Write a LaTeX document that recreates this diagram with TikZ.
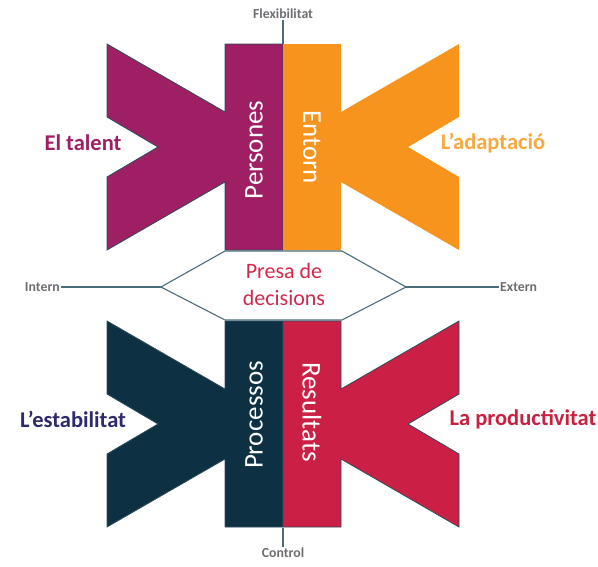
\documentclass[tikz,border=0pt]{standalone}
\usepackage{fontspec}
\setmainfont{Carlito}
\usetikzlibrary{positioning}
\definecolor{talent}{HTML}{9E1F63}
\definecolor{adapt}{HTML}{F7941D}
\definecolor{adapttext}{HTML}{F7A83E}
\definecolor{navy}{HTML}{0D3142}
\definecolor{estab}{HTML}{2E2A6E}
\definecolor{prod}{HTML}{CC1F45}
\definecolor{prodtext}{HTML}{C8203E}
\definecolor{edge}{HTML}{2F4C5C}
\definecolor{axisline}{HTML}{4B6C7A}
\definecolor{axisgray}{HTML}{6D6E71}
\definecolor{presa}{HTML}{D2294A}
\tikzset{
  wing/.pic={\path[pic actions] (-176,0) -- (-58,68) -- (-58,0) -- (0,0) -- (0,206) -- (-58,206) -- (-58,138) -- (-176,206) -- (-176,133) -- (-125,103) -- (-176,73) -- cycle;},
  side label/.style={font=\bfseries\fontsize{22.5}{24}\selectfont},
  axis label/.style={font=\bfseries\fontsize{13.8}{15}\selectfont, text=axisgray, inner sep=1pt},
  bar label/.style={font=\fontsize{27}{29}\selectfont, text=white},
  axis line/.style={draw=axisline, line width=1.1pt}
}

\begin{document}
\begin{tikzpicture}[x=1pt,y=-1pt,line join=miter]
        \useasboundingbox (0,0) rectangle (598,566);
        % the four wings
        \pic[fill=talent,draw=edge,line width=0.8pt] at (283,44) {wing};
        \pic[fill=adapt,xscale=-1] at (283,44) {wing};
        \pic[fill=navy,draw=edge,line width=0.8pt] at (283,321) {wing};
        \pic[fill=prod,draw=edge,line width=0.8pt,xscale=-1] at (283,321) {wing};
        % middle hexagon
        \coordinate (hl) at (161,287);
        \coordinate (hr) at (406,287);
        \draw[axis line] (hl) -- (225,251) -- (342,251) -- (hr) -- (342,320) -- (225,320) -- cycle;
        \node[font=\fontsize{22}{27}\selectfont,text=presa,align=center] (presa) at (284,284) {Presa de\\decisions};
        % bar texts
        \node[bar label,rotate=90] (persones) at (254,150) {Persones};
        \node[bar label,rotate=-90] (entorn) at (312,147) {Entorn};
        \node[bar label,rotate=90] (processos) at (254,415) {Processos};
        \node[bar label,rotate=-90] (resultats) at (312,412) {Resultats};
        % side texts
        \node[side label,text=talent] (talent) at (83,143) {El talent};
        \node[side label,text=adapttext] (adaptacio) at (493,143) {L’adaptació};
        \node[side label,text=estab] (estabilitat) at (73,419) {L’estabilitat};
        \node[side label,text=prodtext] (productivitat) at (523,419) {La productivitat};
        % axes
        \coordinate (ftop) at (283,44);
        \coordinate (cbot) at (283,528);
        \node[axis label,anchor=south] (flex) at (283,20) {Flexibilitat};
        \node[axis label,anchor=north] (control) at (283,547) {Control};
        \node[axis label,anchor=east] (intern) at (61,287) {Intern};
        \node[axis label,anchor=west] (extern) at (499,287) {Extern};
        \draw[axis line] (flex.south) -- (ftop);
        \draw[axis line] (cbot) -- (control.north);
        \draw[axis line] (intern.east) -- (hl);
        \draw[axis line] (hr) -- (extern.west);
      \end{tikzpicture}
\end{document}
